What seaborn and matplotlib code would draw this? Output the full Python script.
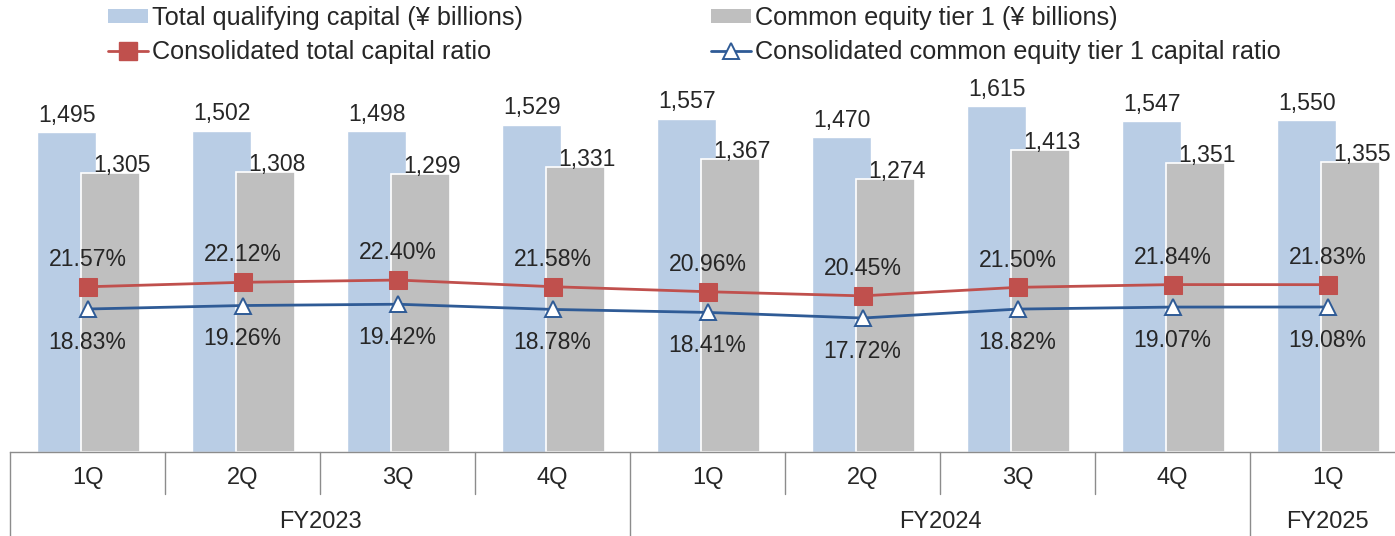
import numpy as np
import seaborn as sns
from matplotlib import pyplot as plt
from matplotlib.patches import Patch
from matplotlib.lines import Line2D

quarters = ['1Q', '2Q', '3Q', '4Q', '1Q', '2Q', '3Q', '4Q', '1Q']
years = ['FY2023', 'FY2024', 'FY2025']
year_sizes = [4, 4, 1]

total_capital = [1495, 1502, 1498, 1529, 1557, 1470, 1615, 1547, 1550]
cet1_capital = [1305, 1308, 1299, 1331, 1367, 1274, 1413, 1351, 1355]
total_ratio = [21.57, 22.12, 22.40, 21.58, 20.96, 20.45, 21.50, 21.84, 21.83]
cet1_ratio = [18.83, 19.26, 19.42, 18.78, 18.41, 17.72, 18.82, 19.07, 19.08]

BLUE_BAR = '#B9CDE5'
GRAY_BAR = '#BFBFBF'
RED = '#C0504D'
NAVY = '#2F5B96'
AXIS_GRAY = '#8C8C8C'

sns.set_theme(style='white')
plt.rcParams['font.family'] = ['Liberation Sans', 'DejaVu Sans']
FS = 16.6       # data labels
FS_AX = 17      # category labels
FS_LEG = 18.2   # legend

W, H = 1395, 536
fig = plt.figure(figsize=(W / 100, H / 100), dpi=100)
# plot area in pixels: x 10..1405, y 60..452 (from top)
ax = fig.add_axes([10 / W, (H - 452) / H, 1395 / W, 392 / H])
ax2 = ax.twinx()

pos = np.arange(len(quarters))
off_blue, off_gray, bw = -0.135, 0.15, 0.38

sns.barplot(x=pos + off_blue, y=total_capital, native_scale=True, width=bw,
            color=BLUE_BAR, saturation=1, edgecolor='white', linewidth=1,
            errorbar=None, ax=ax)
sns.barplot(x=pos + off_gray, y=cet1_capital, native_scale=True, width=bw,
            color=GRAY_BAR, saturation=1, edgecolor='white', linewidth=1.2,
            errorbar=None, ax=ax)

for i in pos:
    ax.annotate(f'{total_capital[i]:,}', (i + off_blue, total_capital[i]),
                xytext=(0, 7.5), textcoords='offset points',
                ha='center', va='baseline', fontsize=FS)
    ax.annotate(f'{cet1_capital[i]:,}', (i + off_gray + 0.07, cet1_capital[i]),
                xytext=(0, 0.8), textcoords='offset points',
                ha='center', va='baseline', fontsize=FS)

ax.set_xlim(-0.5, len(quarters) - 0.5)
ax.set_ylim(0, 1832)

sns.lineplot(x=pos, y=total_ratio, ax=ax2, color=RED, lw=2, marker='s',
             markersize=12.5, markerfacecolor=RED, markeredgecolor=RED)
sns.lineplot(x=pos, y=cet1_ratio, ax=ax2, color=NAVY, lw=2, marker='^',
             markersize=12, markerfacecolor='white', markeredgecolor=NAVY,
             markeredgewidth=1.4)
ax2.set_ylim(1.22, 49.5)
ax2.set_xlim(-0.5, len(quarters) - 0.5)

for i in pos:
    ax2.annotate(f'{total_ratio[i]:.2f}%', (i, total_ratio[i]),
                 xytext=(0, 15), textcoords='offset points',
                 ha='center', va='baseline', fontsize=FS)
    ax2.annotate(f'{cet1_ratio[i]:.2f}%', (i, cet1_ratio[i]),
                 xytext=(0, -28.5), textcoords='offset points',
                 ha='center', va='baseline', fontsize=FS)

for a in (ax, ax2):
    a.set_yticks([])
    a.set_xticks([])
    a.set_xlabel('')
    a.set_ylabel('')
    for s in ('left', 'right', 'top'):
        a.spines[s].set_visible(False)
    a.grid(False)
ax.spines['bottom'].set_color(AXIS_GRAY)
ax.spines['bottom'].set_linewidth(1)
ax2.spines['bottom'].set_visible(False)

# two-level category axis
px = 1 / 392
trans = ax.get_xaxis_transform()
for i, q in enumerate(quarters):
    ax.text(i, -26 * px, q, transform=trans, ha='center', va='center',
            fontsize=FS_AX)
starts = np.cumsum([0] + year_sizes[:-1])
for s, n, y in zip(starts, year_sizes, years):
    ax.text(s - 0.5 + n / 2, -70 * px, y, transform=trans, ha='center',
            va='center', fontsize=FS_AX)
for b in range(len(quarters) + 1):
    depth = 90 if b in set(starts) | {len(quarters)} else 42
    ax.plot([b - 0.5, b - 0.5], [0, -depth * px], transform=trans,
            color=AXIS_GRAY, lw=1, clip_on=False)

handles = [
    Patch(facecolor=BLUE_BAR, edgecolor='none'),
    Line2D([], [], color=RED, lw=2, marker='s', markersize=12.5,
           markerfacecolor=RED, markeredgecolor=RED),
    Patch(facecolor=GRAY_BAR, edgecolor='none'),
    Line2D([], [], color=NAVY, lw=2, marker='^', markersize=12,
           markerfacecolor='white', markeredgecolor=NAVY, markeredgewidth=1.4),
]
labels = ['Total qualifying capital (¥ billions)',
          'Consolidated total capital ratio',
          'Common equity tier 1 (¥ billions)',
          'Consolidated common equity tier 1 capital ratio']
fig.legend(handles, labels, ncol=2, loc='upper left',
           bbox_to_anchor=(108 / W, 1 - 6 / H), frameon=False,
           fontsize=FS_LEG, handlelength=1.58, handleheight=0.48,
           handletextpad=0.16, columnspacing=7.45, labelspacing=0.38,
           borderpad=0, borderaxespad=0)

fig.savefig('out.png', dpi=100)
